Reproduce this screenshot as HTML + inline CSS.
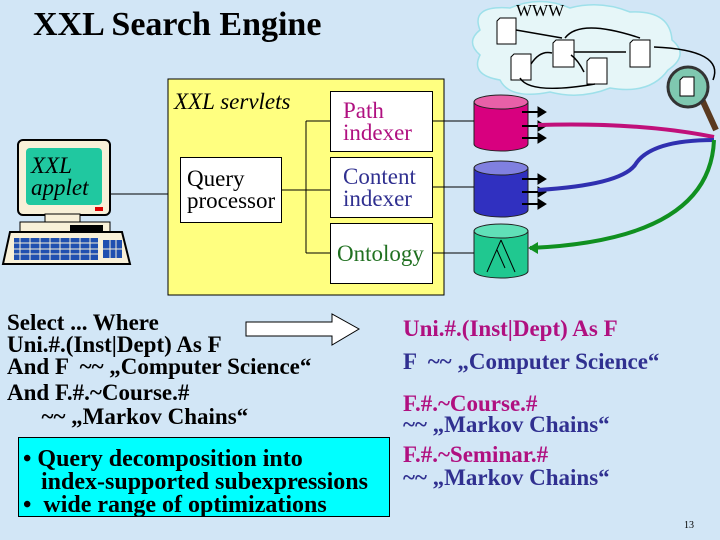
<!DOCTYPE html>
<html><head><style>
body{margin:0;width:720px;height:540px;overflow:hidden;background:#d2e6f6;position:relative;font-family:"Liberation Serif",serif}
.a{position:absolute}
.b{font-weight:bold;font-size:23px;line-height:22px;white-space:nowrap}
.box{position:absolute;background:#fff;border:1px solid #000;box-sizing:border-box;font-size:23px;line-height:22px;padding-left:12px;white-space:nowrap}
</style></head><body>
<div class="a" style="left:33px;top:6px;font-size:34px;font-weight:bold">XXL Search Engine</div>

<svg class="a" style="left:0;top:0" width="720" height="300">
<path d="M480 30 Q470 5 510 8 Q540 -5 570 8 Q600 0 630 12 Q670 10 672 40 Q690 55 668 70 Q650 95 610 88 Q580 100 550 92 Q510 100 500 80 Q470 75 480 55 Q465 42 480 30Z" fill="#e6f6f8" stroke="#9ee0ea" stroke-width="1.5"/>
<g fill="#fff" stroke="#000" stroke-width="1">
<path d="M500 18 h16 v26 h-19 v-23z"/><path d="M514 54 h17 v26 h-20 v-23z"/>
<path d="M556 40 h18 v27 h-21 v-24z"/><path d="M590 58 h17 v26 h-20 v-23z"/>
<path d="M633 40 h17 v27 h-20 v-24z"/>
</g>
<g fill="none" stroke="#000" stroke-width="1.5">
<path d="M516 30 L562 38"/><path d="M565 38 Q580 18 640 38"/><path d="M574 52 L626 52"/>
<path d="M571 55 Q578 60 584 72"/><path d="M531 64 Q540 50 552 53"/><path d="M520 78 Q530 95 595 84"/>
<path d="M713 80 Q725 50 654 47"/>
</g>
<text x="516" y="16" font-family="Liberation Serif" font-size="17">WWW</text>
<line x1="700" y1="95" x2="716" y2="130" stroke="#5a3a20" stroke-width="6"/>
<circle cx="688" cy="87" r="20" fill="#7fc8b0" stroke="#333" stroke-width="3"/>
<path d="M683 77 h11 v19 h-14 v-16z" fill="#fff" stroke="#000"/>
<g stroke="#222" stroke-width="1">
<path d="M474 102 v42 a27 7 0 0 0 54 0 v-42z" fill="#d8007f"/><ellipse cx="501" cy="102" rx="27" ry="7" fill="#e860a8"/>
<path d="M474 168 v42 a27 7 0 0 0 54 0 v-42z" fill="#3030c0"/><ellipse cx="501" cy="168" rx="27" ry="7" fill="#8080e0"/>
<path d="M474 231 v40 a27 7 0 0 0 54 0 v-40z" fill="#20c890"/><ellipse cx="501" cy="231" rx="27" ry="7" fill="#60e0b8"/>
</g>
<path d="M501 240 L487 272 M501 240 L515 272 M497 250 L505 268" stroke="#000" fill="none"/>
<g fill="#000" stroke="#000" stroke-width="2">
<path d="M522 112 h20"/><path d="M522 126 h20"/><path d="M522 138 h20"/>
<path d="M522 179 h20"/><path d="M522 192 h20"/><path d="M522 204 h20"/>
<path d="M546 112 l-8 -5 v10z M546 126 l-8 -5 v10z M546 138 l-8 -5 v10z M546 179 l-8 -5 v10z M546 192 l-8 -5 v10z M546 204 l-8 -5 v10z" stroke-width="1"/>
</g>
<path d="M538 125 Q640 122 714 137" stroke="#c0107a" stroke-width="4" fill="none"/>
<path d="M538 190 Q620 185 635 165 Q650 140 714 140" stroke="#3030b0" stroke-width="4" fill="none"/>
<path d="M714 140 Q710 240 530 248" stroke="#109020" stroke-width="4" fill="none"/>
<path d="M528 248 l10 -6 v12z" fill="#109020"/>
<rect x="168" y="79" width="276" height="216" fill="#ffff80" stroke="#000"/>
<g stroke="#000" fill="none">
<path d="M110 194 H168"/><path d="M282 190 H330"/><path d="M306 121 V253"/>
<path d="M306 121 H330 M306 253 H330"/><path d="M432 121 H474 M432 187 H474 M432 253 H474"/>
</g>
<rect x="18" y="140" width="92" height="75" rx="5" fill="#f8f0d8" stroke="#000" stroke-width="2"/>
<rect x="26" y="148" width="76" height="57" rx="4" fill="#20c8a0"/>
<rect x="95" y="207" width="8" height="4" fill="#d00"/>
<rect x="45" y="214" width="35" height="10" fill="#f8f0d8" stroke="#000"/>
<rect x="20" y="222" width="90" height="13" fill="#f8f0d8" stroke="#000"/>
<rect x="70" y="225" width="33" height="6" fill="#000"/>
<path d="M10 232 H122 L130 264 H3Z" fill="#f8f0d8" stroke="#000" stroke-width="2"/>
<rect x="14" y="238" width="84" height="22" fill="#2050b0"/><rect x="103" y="240" width="19" height="18" fill="#2050b0"/>
<path d="M14 243 h84 M14 249 h84 M14 254 h84 M20 238 v22 M30 238 v22 M40 238 v22 M50 238 v22 M60 238 v22 M70 238 v22 M80 238 v22 M90 238 v22 M103 249 h19 M110 240 v18 M116 240 v18" stroke="#f8f0d8" stroke-width="1"/>
</svg>
<div class="a" style="left:31px;top:155px;font-size:23px;line-height:22px;font-style:italic">XXL<br>applet</div>
<div class="a" style="left:174px;top:89px;font-size:23px;font-style:italic">XXL servlets</div>
<div class="box" style="left:330px;top:91px;width:103px;height:61px;padding-top:8px;color:#b01080">Path<br>indexer</div>
<div class="box" style="left:330px;top:157px;width:103px;height:61px;padding-top:8px;color:#303090">Content<br>indexer</div>
<div class="box" style="left:330px;top:223px;width:103px;height:61px;padding-top:19px;padding-left:6px;color:#207020">Ontology</div>
<div class="box" style="left:180px;top:157px;width:102px;height:66px;padding-top:10px;padding-left:6px">Query<br>processor</div>

<div class="a b" style="left:7px;top:312px">Select ... Where<br>Uni.#.(Inst|Dept) As F<br>And F &nbsp;~~ „Computer Science“</div>
<div class="a b" style="left:7px;top:381px;line-height:24px">And F.#.~Course.#<br>&nbsp;&nbsp;&nbsp;&nbsp;&nbsp;&nbsp;~~ „Markov Chains“</div>
<svg class="a" style="left:244px;top:313px" width="118" height="34"><path d="M2 9 H88 V1 L115 16 L88 32 V23 H2Z" fill="#fff" stroke="#000"/></svg>
<div class="a b" style="left:18px;top:437px;width:372px;height:80px;box-sizing:border-box;background:#00ffff;border:1px solid #000;padding:10px 0 0 4px;line-height:23px;font-size:24px;overflow:hidden">• Query decomposition into<br>&nbsp;&nbsp;&nbsp;index-supported subexpressions<br>•&nbsp; wide range of optimizations</div>

<div class="a b" style="left:403px;top:318px;color:#b01080">Uni.#.(Inst|Dept) As F</div>
<div class="a b" style="left:403px;top:351px;color:#303090">F &nbsp;~~ „Computer Science“</div>
<div class="a b" style="left:403px;top:393px;color:#b01080">F.#.~Course.#</div>
<div class="a b" style="left:403px;top:414px;color:#303090">~~ „Markov Chains“</div>
<div class="a b" style="left:403px;top:444px;color:#b01080">F.#.~Seminar.#</div>
<div class="a b" style="left:403px;top:467px;color:#303090">~~ „Markov Chains“</div>
<div class="a" style="left:684px;top:520px;font-size:10px">13</div>
</body></html>
